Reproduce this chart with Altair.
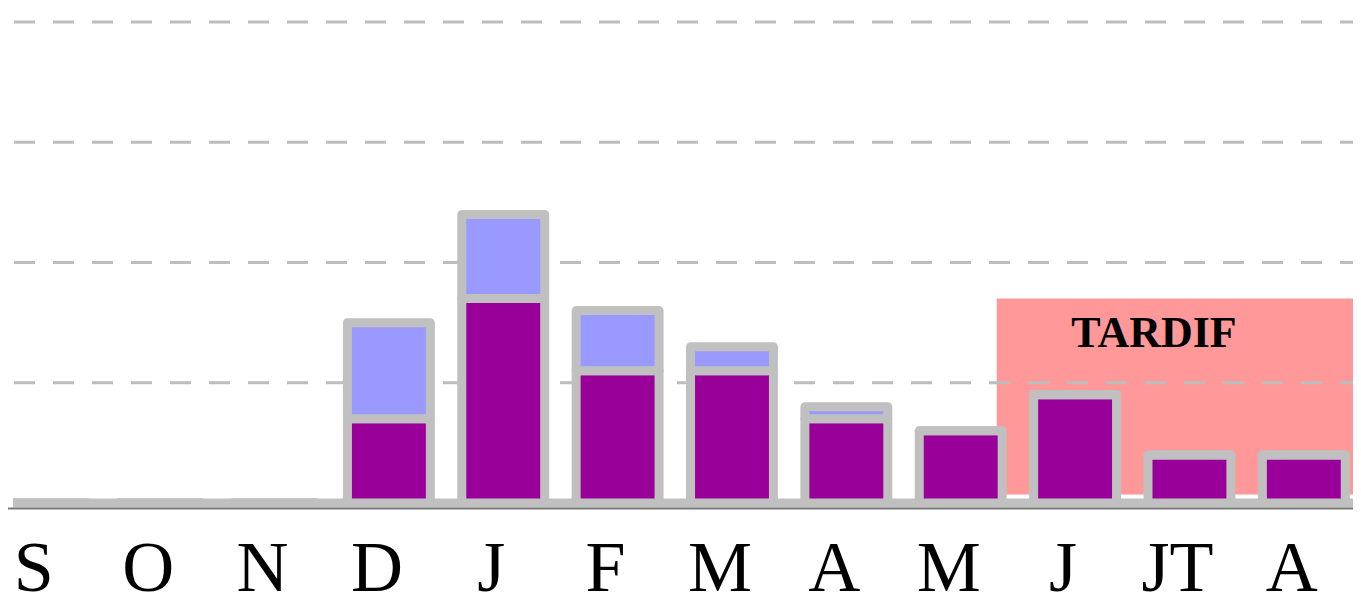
import altair as alt
import pandas as pd

# ---- data ----
month_keys = ["S", "O", "N", "D", "J", "F", "M", "A", "Mai", "Jn", "JT", "Ao"]
month_labels = ["S", "O", "N", "D", "J", "F", "M", "A", "M", "J", "JT", "A"]
main_values = [0, 0, 0, 7, 17, 11, 11, 7, 6, 9, 4, 4]      # dark purple segment
extra_values = [0, 0, 0, 8, 7, 5, 2, 1, 0, 0, 0, 0]        # light violet segment on top
grid_values = [10, 20, 30, 40]
baseline_values = [0]

zone_text = ["TARDIF"]
zone_start = ["Mai"]
zone_end = ["Ao"]
zone_bottom = [0.7]
zone_top = [17]
zone_text_y = [13]
zone_text_month = ["JT"]

# ---- tables ----
rows = []
for k, p, l in zip(month_keys, main_values, extra_values):
    rows.append({"month": k, "seg": "main", "y0": 0, "y1": p})
    rows.append({"month": k, "seg": "extra", "y0": p, "y1": p + l})
bars_df = pd.DataFrame(rows)
grid_df = pd.DataFrame({"g": grid_values})
base_df = pd.DataFrame({"g": baseline_values})
zone_df = pd.DataFrame({"start": zone_start, "end": zone_end,
                        "bottom": zone_bottom, "top": zone_top})
text_df = pd.DataFrame({"m": zone_text_month, "y": zone_text_y, "t": zone_text})

label_map = "{" + ",".join(f"'{k}':'{v}'" for k, v in zip(month_keys, month_labels)) + "}"

xscale = alt.Scale(domain=month_keys, range=[-24.4, 1348], paddingInner=0, paddingOuter=0)
yscale = alt.Scale(domain=[0, 40.75], nice=False, zero=True)
xaxis = alt.Axis(labelExpr=f"{label_map}[datum.value]", labelAngle=0,
                 labelFont="Liberation Serif", labelFontSize=72,
                 labelColor="black", labelBaseline="alphabetic",
                 labelPadding=82, labelOffset=-12,
                 ticks=False, tickSize=0, grid=False, title=None,
                 domainColor="#777777", domainWidth=2, offset=5)

zone = alt.Chart(zone_df).mark_rect(color="#ff9999", clip=True).encode(
    x=alt.X("start:N", scale=xscale, bandPosition=0.815, axis=xaxis),
    x2=alt.X2("end:N", bandPosition=1),
    y=alt.Y("bottom:Q", scale=yscale, axis=None),
    y2="top:Q",
)

grid = alt.Chart(grid_df).mark_rule(
    color="#bdbdbd", strokeWidth=3, strokeDash=[21, 18], strokeDashOffset=8
).encode(y=alt.Y("g:Q", scale=yscale, axis=None))

base = alt.Chart(base_df).mark_rule(color="#c0c0c0", strokeWidth=9).encode(
    y=alt.Y("g:Q", scale=yscale, axis=None)
)

bars = alt.Chart(bars_df).mark_bar(
    stroke="#c0c0c0", strokeWidth=9, strokeJoin="round", clip=True,
    width=alt.RelativeBandSize(0.725),
).encode(
    x=alt.X("month:N", scale=xscale, sort=month_keys, axis=xaxis),
    y=alt.Y("y0:Q", scale=yscale, axis=None),
    y2="y1:Q",
    color=alt.Color("seg:N", scale=alt.Scale(domain=["main", "extra"],
                                             range=["#990099", "#9999ff"]),
                    legend=None),
)

label = alt.Chart(text_df).mark_text(
    font="Liberation Serif", fontSize=44, fontWeight="bold", color="black",
    baseline="alphabetic", align="center",
).encode(
    x=alt.X("m:N", scale=xscale, bandPosition=0.19, axis=xaxis),
    y=alt.Y("y:Q", scale=yscale, axis=None),
    text="t:N",
)

chart = alt.layer(zone, grid, base, bars, label).properties(
    width=1340, height=490,
    autosize=alt.AutoSizeParams(type="none"),
    padding={"left": 5, "top": 5, "right": 0, "bottom": 112},
).configure(background="white").configure_view(stroke=None)

chart.save("out.html", embed_options={"renderer": "svg", "actions": False})
